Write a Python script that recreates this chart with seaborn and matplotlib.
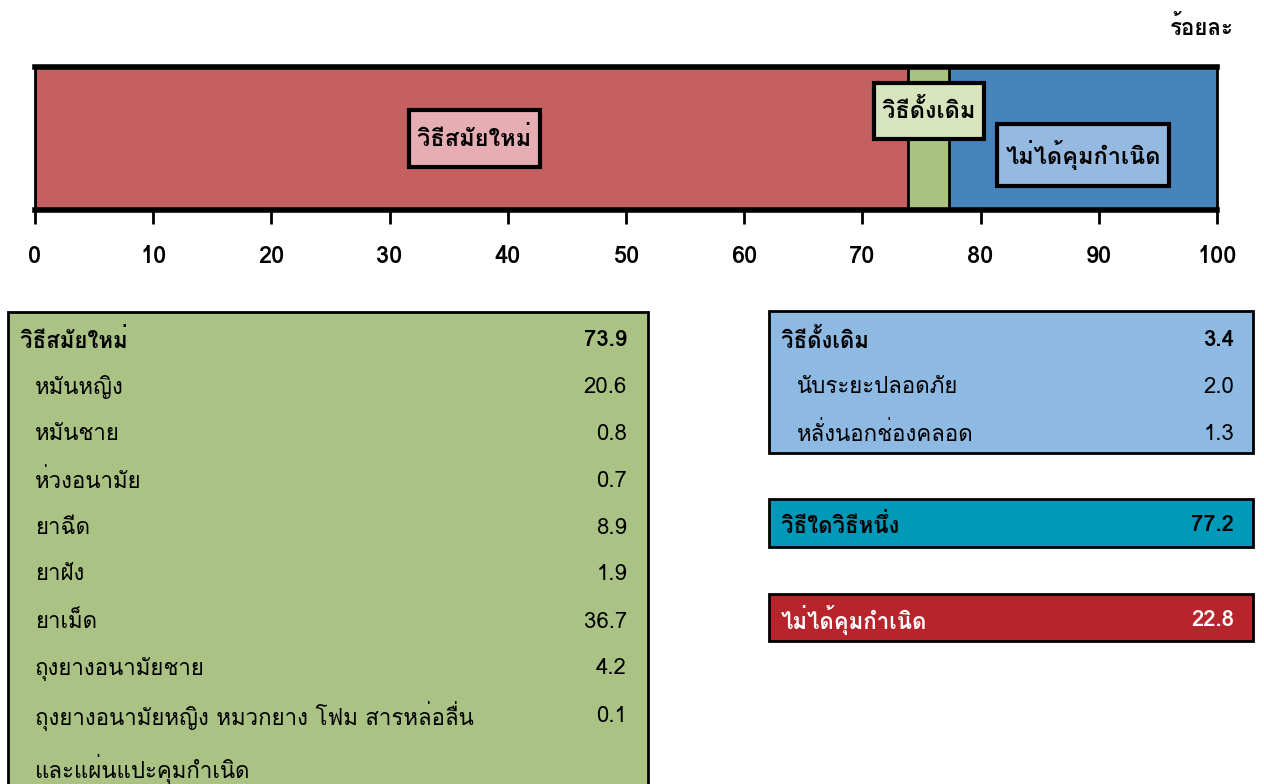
import matplotlib
matplotlib.use("Agg")
import matplotlib.pyplot as plt
from matplotlib.patches import Rectangle
from matplotlib.path import Path
import seaborn as sns
import pandas as pd

# ---------------- data ----------------
bar_labels = ["วิธีสมัยใหม่", "วิธีดั้งเดิม", "ไม่ได้คุมกำเนิด"]
bar_values = [73.9, 3.4, 22.8]
x_ticks = [0, 10, 20, 30, 40, 50, 60, 70, 80, 90, 100]
unit_label = "ร้อยละ"

modern_title = "วิธีสมัยใหม่"
modern_total = 73.9
modern_items = ["หมันหญิง", "หมันชาย", "ห่วงอนามัย", "ยาฉีด", "ยาฝัง", "ยาเม็ด",
                "ถุงยางอนามัยชาย",
                "ถุงยางอนามัยหญิง หมวกยาง โฟม สารหล่อลื่น\nและแผ่นแปะคุมกำเนิด"]
modern_vals = [20.6, 0.8, 0.7, 8.9, 1.9, 36.7, 4.2, 0.1]

trad_title = "วิธีดั้งเดิม"
trad_total = 3.4
trad_items = ["นับระยะปลอดภัย", "หลั่งนอกช่องคลอด"]
trad_vals = [2.0, 1.3]

any_label = "วิธีใดวิธีหนึ่ง"
any_val = 77.2
none_label = "ไม่ได้คุมกำเนิด"
none_val = 22.8

# ---------------- fonts ----------------
sns.set_theme(style="white")
plt.rcParams['font.family'] = ['Loma', 'DejaVu Sans']
plt.rcParams['text.color'] = 'black'
plt.rcParams['xtick.color'] = 'black'
plt.rcParams['xtick.labelcolor'] = 'black'

# ---------------- figure ----------------
W, H = 1264, 784
fig = plt.figure(figsize=(W / 100, H / 100), dpi=100)
fig.patch.set_facecolor("white")

def fx(px):
    return px / W

def fy(py):
    return 1 - py / H

# Overlay axes for tables (pixel coordinates)
ov = fig.add_axes([0, 0, 1, 1])
ov.set_xlim(0, W)
ov.set_ylim(H, 0)
ov.axis("off")

# Top bar axes
ax = fig.add_axes([fx(35), fy(210), fx(1217) - fx(35), (210 - 67) / H])
colors = ["#C4605F", "#AAC281", "#4884BC"]
cum = []
s = 0
for v in bar_values:
    s += v
    cum.append(round(s, 1))
df = pd.DataFrame({"seg": bar_labels, "cum": cum, "y": ["all"] * 3})
for i in reversed(range(3)):
    sns.barplot(data=df.iloc[[i]], x="cum", y="y", orient="h", color=colors[i],
                width=1.0, edgecolor="black", linewidth=2, ax=ax, saturation=1)
ax.set_xlim(0, 100)
ax.set_ylim(0.5, -0.5)
ax.set_xlabel("")
ax.set_ylabel("")
ax.set_yticks([])
ax.set_xticks(x_ticks)
ax.set_xticklabels([str(t) for t in x_ticks], fontsize=17, fontweight="bold", color="black")
ax.tick_params(axis="x", direction="out", length=10, width=2, color="black", pad=15, bottom=True)
for side in ["top", "bottom"]:
    ax.spines[side].set_linewidth(4)
    ax.spines[side].set_color("black")
for side in ["left", "right"]:
    ax.spines[side].set_linewidth(2)
    ax.spines[side].set_color("black")
    ax.spines[side].set_visible(True)


def tall_box(x0, y0, width, height, mutation_size):
    px = 0.35 * mutation_size
    py = 0.68 * mutation_size
    x1, y1 = x0 + width, y0 + height
    verts = [(x0 - px, y0 - py), (x1 + px, y0 - py), (x1 + px, y1 + py),
             (x0 - px, y1 + py), (x0 - px, y0 - py)]
    codes = [Path.MOVETO, Path.LINETO, Path.LINETO, Path.LINETO, Path.CLOSEPOLY]
    return Path(verts, codes)


label_pos = [(37.2, 0.0), (75.6, -0.19), (88.7, 0.115)]
label_fc = ["#E6AEB3", "#D7E4BD", "#95B9E1"]
for lab, (xx, yy), fc in zip(bar_labels, label_pos, label_fc):
    ax.text(xx, yy, lab, ha="center", va="center", fontsize=17, fontweight="bold",
            bbox=dict(boxstyle=tall_box, facecolor=fc, edgecolor="black", linewidth=3))

fig.text(fx(1234), fy(27), unit_label, ha="right", va="center", fontsize=16, fontweight="bold")

# ---------------- tables ----------------
row_h = 47
fs = 16

# Left green table
ov.add_patch(Rectangle((8, 312), 640, 500, facecolor="#AAC283", edgecolor="black", linewidth=2))
y0 = 340
ov.text(20, y0, modern_title, ha="left", va="center", fontsize=fs, fontweight="bold")
ov.text(627, y0, f"{modern_total:.1f}", ha="right", va="center", fontsize=fs, fontweight="bold")
for i, (lab, v) in enumerate(zip(modern_items, modern_vals)):
    yy = y0 + (i + 1) * row_h
    for j, line in enumerate(lab.split("\n")):
        ov.text(35, yy + j * 53, line, ha="left", va="center", fontsize=fs)
    ov.text(627, yy, f"{v:.1f}", ha="right", va="center", fontsize=fs)

# Right blue table
ov.add_patch(Rectangle((769, 311), 484, 142, facecolor="#8DB9E3", edgecolor="black", linewidth=2))
ov.text(781, y0, trad_title, ha="left", va="center", fontsize=fs, fontweight="bold")
ov.text(1234, y0, f"{trad_total:.1f}", ha="right", va="center", fontsize=fs, fontweight="bold")
for i, (lab, v) in enumerate(zip(trad_items, trad_vals)):
    yy = y0 + (i + 1) * row_h
    ov.text(797, yy, lab, ha="left", va="center", fontsize=fs)
    ov.text(1234, yy, f"{v:.1f}", ha="right", va="center", fontsize=fs)

# Any method
ov.add_patch(Rectangle((769, 499), 484, 48, facecolor="#0099B9", edgecolor="black", linewidth=2))
ov.text(781, 525, any_label, ha="left", va="center", fontsize=fs, fontweight="bold")
ov.text(1234, 525, f"{any_val:.1f}", ha="right", va="center", fontsize=fs, fontweight="bold")

# Not using
ov.add_patch(Rectangle((769, 594), 484, 47, facecolor="#B8242B", edgecolor="black", linewidth=2))
ov.text(781, 620, none_label, ha="left", va="center", fontsize=fs, fontweight="bold", color="white")
ov.text(1234, 620, f"{none_val:.1f}", ha="right", va="center", fontsize=fs, fontweight="bold", color="white")

fig.savefig("out.png", dpi=100, facecolor="white")
